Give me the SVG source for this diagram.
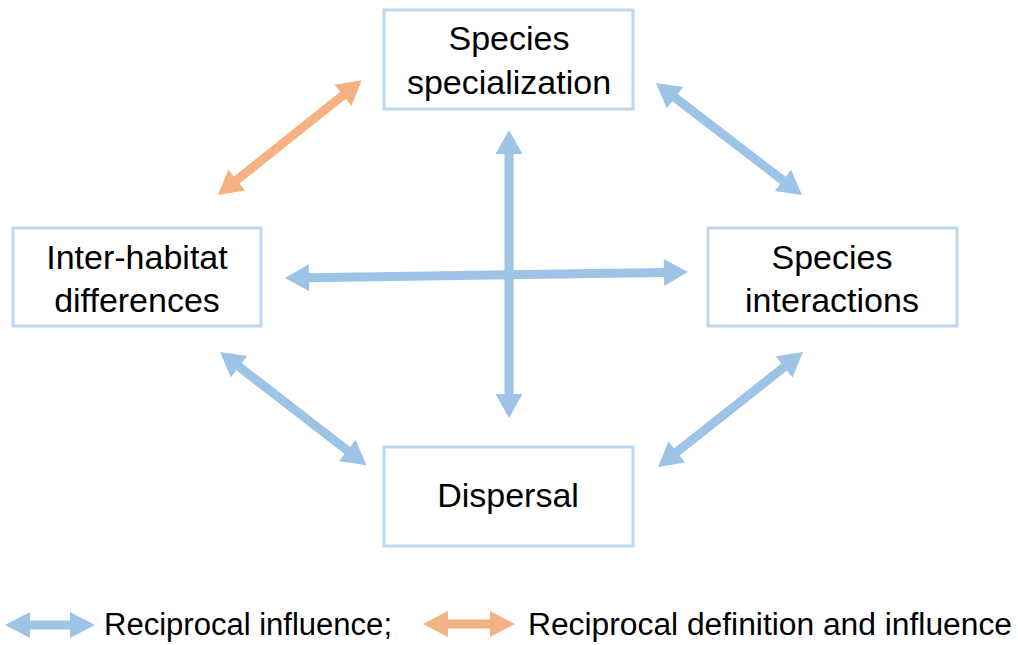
<svg xmlns="http://www.w3.org/2000/svg" width="1018" height="645" viewBox="0 0 1018 645">
<style>
.box{fill:#fff;stroke:#BDD7EE;stroke-width:3}
.t{font-family:"Liberation Sans",Arial,sans-serif;font-size:34px;fill:#000;text-anchor:middle}
.lg{font-family:"Liberation Sans",Arial,sans-serif;font-size:31px;fill:#000}
.b{fill:#9DC3E6}
.o{fill:#F4B183}
</style>
<rect width="1018" height="645" fill="#fff"/>
<g id="connectors">
<polygon class="b" transform="translate(509,130) rotate(90)" points="0,0 24,-13.5 24,-4.5 264,-4.5 264,-13.5 288,0 264,13.5 264,4.5 24,4.5 24,13.5"/>
<polygon class="b" transform="translate(285,278) rotate(-0.85)" points="0,0 24,-13.5 24,-4.5 379,-4.5 379,-13.5 403,0 379,13.5 379,4.5 24,4.5 24,13.5"/>
<polygon class="o" transform="translate(218,195) rotate(-38.6)" points="0,0 24,-13.5 24,-4.5 160,-4.5 160,-13.5 184,0 160,13.5 160,4.5 24,4.5 24,13.5"/>
<polygon class="b" transform="translate(656,83) rotate(37.5)" points="0,0 24,-13.5 24,-4.5 160,-4.5 160,-13.5 184,0 160,13.5 160,4.5 24,4.5 24,13.5"/>
<polygon class="b" transform="translate(220,352) rotate(37.7)" points="0,0 24,-13.5 24,-4.5 161,-4.5 161,-13.5 185,0 161,13.5 161,4.5 24,4.5 24,13.5"/>
<polygon class="b" transform="translate(803,352) rotate(141.6)" points="0,0 24,-13.5 24,-4.5 161,-4.5 161,-13.5 185,0 161,13.5 161,4.5 24,4.5 24,13.5"/>
</g>
<g id="node-specialization">
<rect class="box" x="384" y="10" width="249" height="99"/>
<text class="t" x="509" y="50">Species</text>
<text class="t" x="509" y="94">specialization</text>
</g>
<g id="node-interhabitat">
<rect class="box" x="13" y="228" width="248" height="98"/>
<text class="t" x="137" y="269">Inter-habitat</text>
<text class="t" x="137" y="312">differences</text>
</g>
<g id="node-interactions">
<rect class="box" x="708" y="228" width="249" height="98"/>
<text class="t" x="832" y="269">Species</text>
<text class="t" x="832" y="312">interactions</text>
</g>
<g id="node-dispersal">
<rect class="box" x="384" y="447" width="249" height="99"/>
<text class="t" x="508" y="507">Dispersal</text>
</g>
<g id="legend">
<polygon class="b" transform="translate(5,625)" points="0,0 25,-13 25,-4.5 65,-4.5 65,-13 90,0 65,13 65,4.5 25,4.5 25,13"/>
<text class="lg" x="104" y="635" textLength="288" lengthAdjust="spacingAndGlyphs">Reciprocal influence;</text>
<polygon class="o" transform="translate(423,624)" points="0,0 25,-13 25,-4.5 67,-4.5 67,-13 92,0 67,13 67,4.5 25,4.5 25,13"/>
<text class="lg" x="528" y="635" textLength="484" lengthAdjust="spacingAndGlyphs">Reciprocal definition and influence</text>
</g>
</svg>
